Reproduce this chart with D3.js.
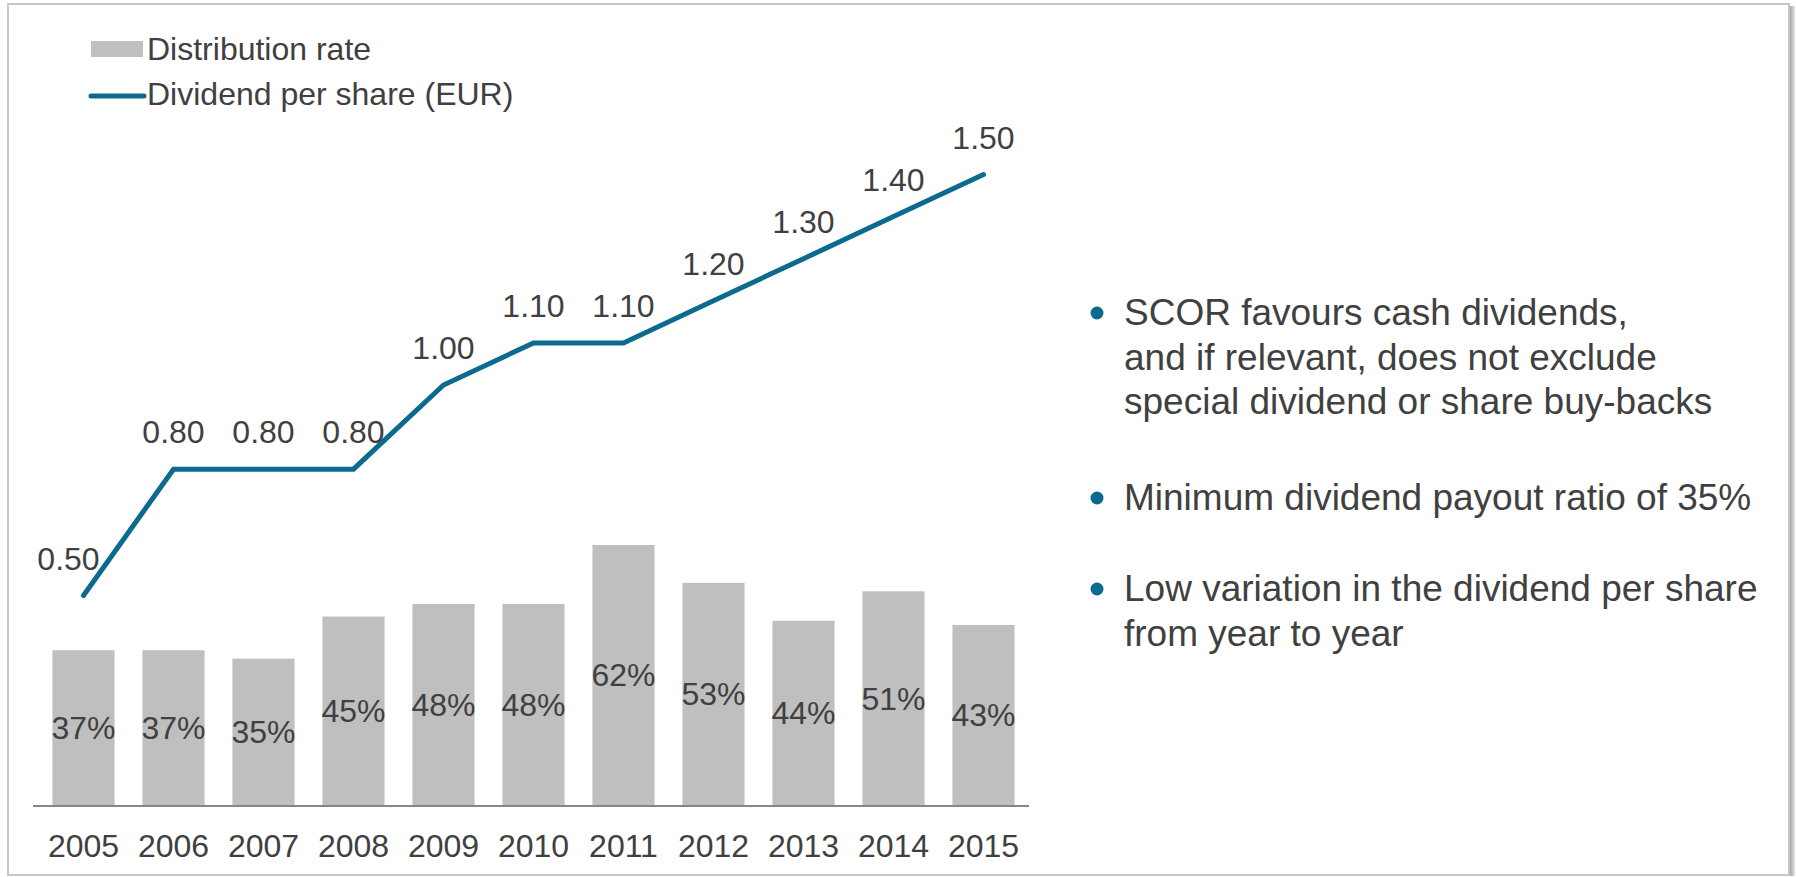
<!DOCTYPE html>
<html>
<head>
<meta charset="utf-8">
<script src="https://cdn.jsdelivr.net/npm/d3@7"></script>
<style>
  body { margin: 0; background: #ffffff; }
  svg text { font-family: "Liberation Sans", Arial, sans-serif; fill: #404040; }
</style>
</head>
<body>
<div id="chart"></div>
<script>
// chart data
var years = ["2005", "2006", "2007", "2008", "2009", "2010", "2011", "2012", "2013", "2014", "2015"];
var distributionRate = [37, 37, 35, 45, 48, 48, 62, 53, 44, 51, 43];
var dividendPerShare = [0.50, 0.80, 0.80, 0.80, 1.00, 1.10, 1.10, 1.20, 1.30, 1.40, 1.50];
var legendLabels = ["Distribution rate", "Dividend per share (EUR)"];
var bullets = [
    ["SCOR favours cash dividends,", "and if relevant, does not exclude", "special dividend or share buy-backs"],
    ["Minimum dividend payout ratio of 35%"],
    ["Low variation in the dividend per share", "from year to year"]
];

var width = 1796, height = 877;
var barColor = "#bfbfbf", lineColor = "#0b6a8d";
var fontSize = "32px";

var svg = d3.select("#chart").append("svg")
    .attr("width", width)
    .attr("height", height);

// frame round the slide, with a small shadow on the right
var defs = svg.append("defs");
var grad = defs.append("linearGradient").attr("id", "shadow");
grad.append("stop").attr("offset", "0%").attr("stop-color", "#9a9a9a");
grad.append("stop").attr("offset", "100%").attr("stop-color", "#e6e6e6");
svg.append("rect")
    .attr("x", 1789).attr("y", 6).attr("width", 6).attr("height", 870)
    .attr("fill", "url(#shadow)");
svg.append("rect")
    .attr("x", 8).attr("y", 4).attr("width", 1781).attr("height", 871)
    .attr("fill", "white")
    .attr("stroke", "#c8c8c8")
    .attr("stroke-width", 2);

// scales: one axis for both series, 100% == 1.00 EUR
var x = d3.scaleBand().domain(years).range([38.5, 1028.5]).paddingInner(0.31).paddingOuter(0.155);
var y = d3.scaleLinear().domain([0, 1]).range([806, 385]);
var cx = d => x(d) + x.bandwidth() / 2;

var chart = svg.append("g");

// bars
chart.selectAll(".bar")
    .data(years)
    .join("rect")
    .attr("class", "bar")
    .attr("x", d => x(d))
    .attr("width", x.bandwidth())
    .attr("y", (d, i) => y(distributionRate[i] / 100))
    .attr("height", (d, i) => y(0) - y(distributionRate[i] / 100))
    .attr("fill", barColor);

// bar labels, in the middle of each bar
chart.selectAll(".barlabel")
    .data(years)
    .join("text")
    .attr("class", "barlabel")
    .attr("x", d => cx(d))
    .attr("y", (d, i) => (y(distributionRate[i] / 100) + y(0)) / 2 + 11)
    .attr("text-anchor", "middle")
    .style("font-size", fontSize)
    .text((d, i) => distributionRate[i] + "%");

// x axis
var xAxis = d3.axisBottom(x).tickSize(0).tickPadding(28);
var gx = chart.append("g")
    .attr("transform", `translate(0,${y(0)})`)
    .call(xAxis);
gx.select(".domain").attr("d", "M33,0H1029").attr("stroke", "#868686").attr("stroke-width", 2);
gx.selectAll(".tick text")
    .style("font-size", fontSize)
    .attr("fill", "#404040")
    .attr("font-family", "Liberation Sans, Arial, sans-serif");

// dividend line
var line = d3.line()
    .x((d, i) => cx(years[i]))
    .y(d => y(d));
chart.append("path")
    .datum(dividendPerShare)
    .attr("d", line)
    .attr("fill", "none")
    .attr("stroke", lineColor)
    .attr("stroke-width", 5)
    .attr("stroke-linecap", "round");

chart.selectAll(".linelabel")
    .data(dividendPerShare)
    .join("text")
    .attr("class", "linelabel")
    .attr("x", (d, i) => cx(years[i]))
    .attr("dx", (d, i) => i === 0 ? -15 : 0)
    .attr("y", d => y(d) - 26)
    .attr("text-anchor", "middle")
    .style("font-size", fontSize)
    .text(d => d3.format(".2f")(d));

// legend
var legend = svg.append("g");
legend.append("rect")
    .attr("x", 91).attr("y", 41).attr("width", 52).attr("height", 16)
    .attr("fill", barColor);
legend.append("line")
    .attr("x1", 91).attr("x2", 144).attr("y1", 96).attr("y2", 96)
    .attr("stroke", lineColor).attr("stroke-width", 5).attr("stroke-linecap", "round");
legend.selectAll("text")
    .data(legendLabels)
    .join("text")
    .attr("x", 147)
    .attr("y", (d, i) => 60 + i * 45)
    .style("font-size", fontSize)
    .text(d => d);

// bullet points on the right
var bulletTop = [325, 510, 601];
var bg = svg.append("g");
bullets.forEach(function(lines, i) {
    bg.append("circle")
        .attr("cx", 1097)
        .attr("cy", bulletTop[i] - 12)
        .attr("r", 6.5)
        .attr("fill", lineColor);
    bg.append("g").selectAll("text")
        .data(lines)
        .join("text")
        .attr("x", 1124)
        .attr("y", (d, j) => bulletTop[i] + j * 44.5)
        .style("font-size", "37px")
        .text(d => d);
});
</script>
</body>
</html>
